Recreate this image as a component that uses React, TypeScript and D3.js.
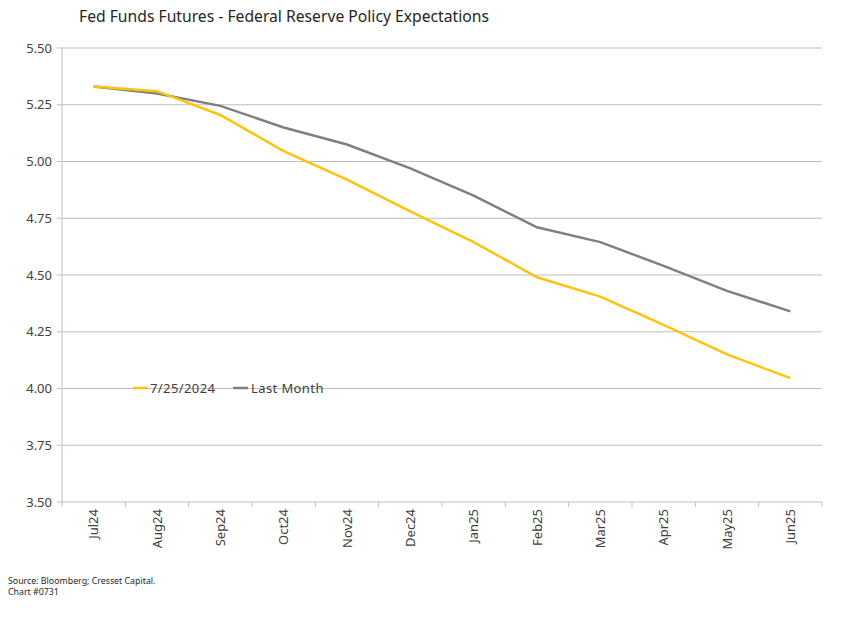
import React from "react";
import * as d3 from "d3";

const categories = ["Jul24","Aug24","Sep24","Oct24","Nov24","Dec24","Jan25","Feb25","Mar25","Apr25","May25","Jun25"];
const current = [5.33,5.31,5.205,5.046,4.92,4.78,4.645,4.49,4.405,4.28,4.15,4.046];
const lastMonth = [5.33,5.30,5.245,5.15,5.075,4.97,4.85,4.71,4.645,4.54,4.43,4.34];
const yTicks = [3.5,3.75,4.0,4.25,4.5,4.75,5.0,5.25,5.5];
const seriesNames = ["7/25/2024","Last Month"];
const colors = ["#FFC20E","#808080"];

export default function App() {
  const W = 850, H = 617;
  const left = 62, right = 822, top = 48, bottom = 502;
  const x = d3.scaleBand<string>().domain(categories).range([left, right]);
  const y = d3.scaleLinear().domain([3.5, 5.5]).range([bottom, top]);
  const line = d3.line<number>()
    .x((_, i) => (x(categories[i]) as number) + x.bandwidth() / 2)
    .y(d => y(d));
  const font = "'Noto Sans', sans-serif";
  const txt = "#404040";
  return (
    <svg width={W} height={H} style={{ position: "absolute", left: 0, top: 0, background: "#fff" }} fontFamily={font}>
      <text x={79} y={22} fontSize={15.7} fill="#262626">Fed Funds Futures - Federal Reserve Policy Expectations</text>
      {yTicks.map(t => (
        <g key={t}>
          <line x1={left} x2={right} y1={y(t)} y2={y(t)} stroke="#BFBFBF" strokeWidth={1} />
          <line x1={left - 5} x2={left} y1={y(t)} y2={y(t)} stroke="#BFBFBF" strokeWidth={1} />
          <text x={left - 10} y={y(t)} dy="0.35em" textAnchor="end" fontSize={13} fill={txt}>{t.toFixed(2)}</text>
        </g>
      ))}
      <line x1={left} x2={left} y1={top} y2={bottom} stroke="#BFBFBF" />
      {categories.map(c => (
        <line key={"tk" + c} x1={(x(c) as number)} x2={(x(c) as number)} y1={bottom} y2={bottom + 5} stroke="#BFBFBF" />
      ))}
      <line x1={right} x2={right} y1={bottom} y2={bottom + 5} stroke="#BFBFBF" />
      {categories.map(c => {
        const cx = (x(c) as number) + x.bandwidth() / 2;
        return (
          <text key={c} transform={`translate(${cx},${bottom + 7}) rotate(-90)`} textAnchor="end" dy="0.35em" fontSize={13} fill={txt}>{c}</text>
        );
      })}
      <path d={line(lastMonth) || ""} fill="none" stroke={colors[1]} strokeWidth={2.5} />
      <path d={line(current) || ""} fill="none" stroke={colors[0]} strokeWidth={2.5} />
      <g>
        <line x1={133} x2={148} y1={388} y2={388} stroke={colors[0]} strokeWidth={2.5} />
        <text x={150} y={388} dy="0.35em" fontSize={13} letterSpacing={0.4} fill={txt}>{seriesNames[0]}</text>
        <line x1={233} x2={248} y1={388} y2={388} stroke={colors[1]} strokeWidth={2.5} />
        <text x={251} y={388} dy="0.35em" fontSize={13} letterSpacing={0.4} fill={txt}>{seriesNames[1]}</text>
      </g>
      <text x={8} y={584} fontSize={8.8} fill="#262626">Source: Bloomberg; Cresset Capital.</text>
      <text x={8} y={595} fontSize={8.8} fill="#262626">Chart #0731</text>
    </svg>
  );
}
